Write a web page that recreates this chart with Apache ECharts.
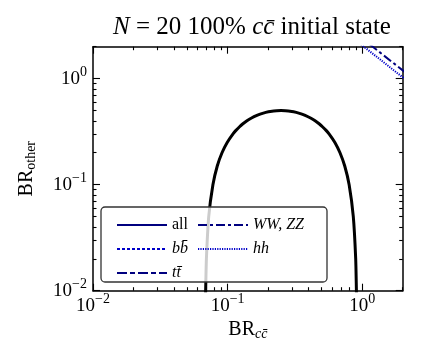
<!DOCTYPE html>
<html>
<head>
<meta charset="utf-8">
<script src="https://cdn.jsdelivr.net/npm/echarts@6.0.0/dist/echarts.min.js"></script>
<style>
html, body { margin: 0; padding: 0; background: #fff; }
#chart { width: 424px; height: 363px; }
</style>
</head>
<body>
<div id="chart"></div>
<script>
// contour (BR_cc, BR_other)
const curveX = [0.0679, 0.0687, 0.0696, 0.0724, 0.0778, 0.0838, 0.0909, 0.0993, 0.1094, 0.1154, 0.1222, 0.130, 0.1393, 0.1506, 0.1652, 0.1767, 0.1922, 0.2075, 0.2495, 0.2999, 0.3237, 0.3522, 0.3767, 0.4133, 0.4468, 0.4786, 0.509, 0.5393, 0.569, 0.627, 0.684, 0.742, 0.800, 0.859, 0.895, 0.906, 0.917];
const curveY = [0.005, 0.01, 0.02, 0.05, 0.10, 0.15, 0.20, 0.25, 0.30, 0.325, 0.35, 0.375, 0.40, 0.425, 0.45, 0.465, 0.48, 0.49, 0.50, 0.49, 0.48, 0.465, 0.45, 0.425, 0.40, 0.375, 0.35, 0.325, 0.30, 0.25, 0.20, 0.15, 0.10, 0.05, 0.02, 0.01, 0.005];

// the two lines in the top right corner
const wwX = [1.14, 2.1];
const wwY = [2.1, 1.14];
const hhX = [0.98, 2.1];
const hhY = [2.1, 0.98];

// b-bar / t-bar: letter then combining macron
const seriesNames = ['all', 'bb\u0304', 'tt\u0304', 'WW, ZZ', 'hh'];
const majorTicks = [0.01, 0.1, 1];
const minorTicks = [0.02, 0.03, 0.04, 0.05, 0.06, 0.07, 0.08, 0.09, 0.2, 0.3, 0.4, 0.5, 0.6, 0.7, 0.8, 0.9, 2];

const serif = 'Liberation Serif';
const navy = '#00007f';
const blue = '#0000c8';

function pairs(xs, ys) {
  return xs.map((x, i) => [x, ys[i]]);
}

function powLabel(v) {
  const e = Math.round(Math.log10(v));
  return '{b|10}{s|' + (e < 0 ? '\u2212' + (-e) : e) + '}';
}

const labelRich = {
  b: { fontFamily: serif, fontSize: 19, color: '#000' },
  s: { fontFamily: serif, fontSize: 14, color: '#000', padding: [0, 0, 12, 0] }
};

function makeAxis(dim, gridIndex, position, major, show) {
  const vals = major ? majorTicks : minorTicks;
  return {
    type: 'log',
    logBase: 10,
    gridIndex: gridIndex,
    position: position,
    min: 0.01,
    max: 2,
    axisLine: { show: major, lineStyle: { color: '#000', width: 1.5 } },
    axisTick: {
      show: true,
      inside: true,
      length: major ? 7 : 3.5,
      customValues: vals,
      lineStyle: { color: '#000', width: 1.1 }
    },
    axisLabel: {
      show: show,
      customValues: majorTicks,
      formatter: powLabel,
      rich: labelRich,
      margin: dim === 'x' ? 2 : 6
    },
    minorTick: { show: false },
    splitLine: { show: false }
  };
}

const xAxes = [
  makeAxis('x', 0, 'bottom', true, true),
  makeAxis('x', 0, 'top', true, false),
  makeAxis('x', 1, 'bottom', false, false),
  makeAxis('x', 1, 'top', false, false)
];
xAxes[0].name = '{b|BR}{s|cc\u0304}';
xAxes[0].nameLocation = 'middle';
xAxes[0].nameGap = 28;
xAxes[0].nameTextStyle = {
  rich: {
    b: { fontFamily: serif, fontSize: 20, color: '#000' },
    s: { fontFamily: serif, fontSize: 14, fontStyle: 'italic', color: '#000', padding: [8, 0, 0, 0] }
  }
};

const yAxes = [
  makeAxis('y', 0, 'left', true, true),
  makeAxis('y', 0, 'right', true, false),
  makeAxis('y', 1, 'left', false, false),
  makeAxis('y', 1, 'right', false, false)
];
yAxes[0].name = '{b|BR}{s|other}';
yAxes[0].nameLocation = 'middle';
yAxes[0].nameRotate = 90;
yAxes[0].nameGap = 55;
yAxes[0].nameTextStyle = {
  rich: {
    b: { fontFamily: serif, fontSize: 20, color: '#000' },
    s: { fontFamily: serif, fontSize: 14, color: '#000', padding: [8, 0, 0, 0] }
  }
};

function lineSeries(name, data, color, type, width) {
  return {
    name: name,
    type: 'line',
    xAxisIndex: 0,
    yAxisIndex: 0,
    data: data,
    symbol: 'none',
    showSymbol: false,
    clip: true,
    lineStyle: { color: color, width: width, type: type },
    itemStyle: { color: color },
    z: 2
  };
}

const legendText = {
  fontFamily: serif,
  fontSize: 16,
  color: '#000',
  lineHeight: 16,
  rich: {
    r: { fontFamily: serif, fontSize: 16, color: '#000' },
    i: { fontFamily: serif, fontSize: 16, fontStyle: 'italic', color: '#000' }
  }
};
function legendFmt(name) {
  return name === 'all' ? '{r|all}' : '{i|' + name + '}';
}

// legend shows only the line sample, no marker
const legendBase = {
  orient: 'vertical',
  top: 212,
  itemWidth: 50,
  itemHeight: 14,
  itemGap: 8,
  selectedMode: false,
  formatter: legendFmt,
  textStyle: legendText,
  itemStyle: { color: 'rgba(0,0,0,0)', borderColor: 'rgba(0,0,0,0)', borderWidth: 0 }
};

const chart = echarts.init(document.getElementById('chart'), null, { renderer: 'canvas' });
chart.setOption({
  animation: false,
  backgroundColor: '#fff',
  title: {
    text: '{i|N}{r| = 20 100% }{i|cc\u0304}{r| initial state}',
    left: 247,
    top: 10,
    textAlign: 'center',
    textStyle: {
      fontWeight: 'normal',
      rich: {
        r: { fontFamily: serif, fontSize: 25, fontWeight: 'normal', color: '#000' },
        i: { fontFamily: serif, fontSize: 25, fontWeight: 'normal', fontStyle: 'italic', color: '#000' }
      }
    }
  },
  grid: [
    { left: 93, right: 21.3, top: 46.7, bottom: 72.3, containLabel: false },
    { left: 93, right: 21.3, top: 46.7, bottom: 72.3, containLabel: false }
  ],
  xAxis: xAxes,
  yAxis: yAxes,
  legend: [
    Object.assign({}, legendBase, {
      data: [seriesNames[0], seriesNames[1], seriesNames[2]],
      left: 111
    }),
    Object.assign({}, legendBase, {
      data: [seriesNames[3], seriesNames[4]],
      left: 192
    })
  ],
  graphic: {
    elements: [
      {
        type: 'rect',
        z: 3,
        shape: { x: 101, y: 207, width: 226, height: 75, r: 4 },
        style: { fill: 'rgba(255,255,255,0.8)', stroke: '#333', lineWidth: 1.3 }
      }
    ]
  },
  series: [
    {
      type: 'line',
      xAxisIndex: 0,
      yAxisIndex: 0,
      data: pairs(curveX, curveY),
      symbol: 'none',
      smooth: 0.2,
      clip: true,
      lineStyle: { color: '#000', width: 3 },
      z: 2
    },
    lineSeries(seriesNames[0], [], navy, 'solid', 2),
    lineSeries(seriesNames[1], [], blue, [3, 2], 2),
    lineSeries(seriesNames[2], [], navy, [10, 3, 5, 3], 2),
    lineSeries(seriesNames[3], pairs(wwX, wwY), navy, [9, 3, 3, 3], 2),
    lineSeries(seriesNames[4], pairs(hhX, hhY), blue, [1.2, 1.2], 2)
  ]
});
</script>
</body>
</html>
